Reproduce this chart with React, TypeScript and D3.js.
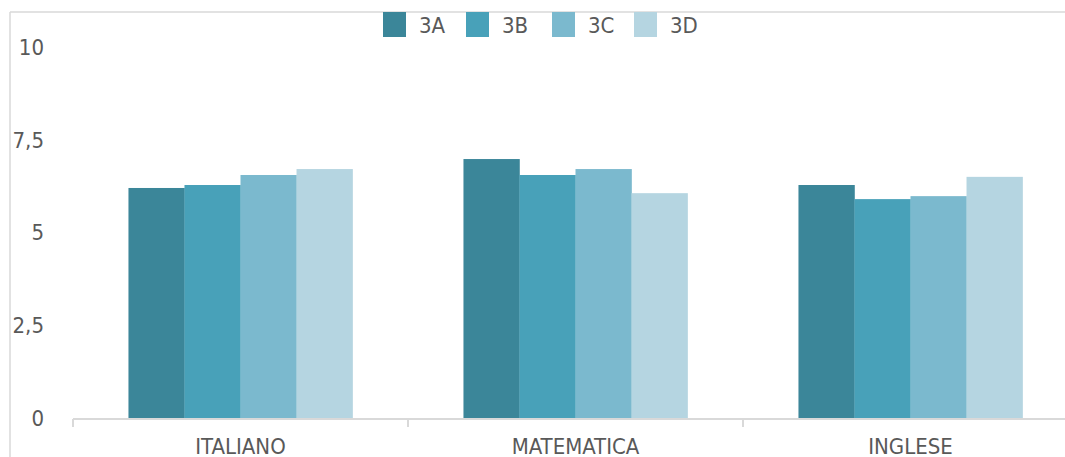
import React from "react";
import * as d3 from "d3";

const categories = ["ITALIANO", "MATEMATICA", "INGLESE"];
const seriesNames = ["3A", "3B", "3C", "3D"];
const values3A = [6.2, 6.98, 6.28];
const values3B = [6.28, 6.55, 5.9];
const values3C = [6.55, 6.71, 5.98];
const values3D = [6.71, 6.06, 6.5];
const yTicks = [0, 2.5, 5, 7.5, 10];
const colors = ["#3b8699", "#48a1b9", "#7bb9ce", "#b5d5e1"];

const seriesValues = [values3A, values3B, values3C, values3D];

const W = 1065;
const H = 457;
const FONT = "'DejaVu Sans Condensed', 'DejaVu Sans', sans-serif";
const TEXT = "#595959";
const GRID = "#d9d9d9";

export default function App() {
  const x0 = d3.scaleBand<string>().domain(categories).range([73, 1078]).padding(0);
  const x1 = d3
    .scaleBand<string>()
    .domain(seriesNames)
    .range([0, x0.bandwidth()])
    .paddingInner(0)
    .paddingOuter(0.99);
  const y = d3.scaleLinear().domain([0, 10]).range([418, 47]);
  const fmt = (v: number) => String(v).replace(".", ",");

  const legendX = [383, 466, 552, 634];

  return (
    <svg
      width={W}
      height={H}
      style={{ position: "absolute", left: 0, top: 0, background: "#fff" }}
      fontFamily={FONT}
    >
      {/* frame */}
      <line x1={10} y1={12} x2={W} y2={12} stroke={GRID} strokeWidth={1.5} />
      <line x1={10} y1={12} x2={10} y2={H} stroke={GRID} strokeWidth={1.5} />

      {/* bars */}
      {categories.map((c, ci) => (
        <g key={c} transform={`translate(${x0(c)},0)`}>
          {seriesNames.map((s, si) => {
            const v = seriesValues[si][ci];
            return (
              <rect
                key={s}
                x={x1(s)}
                y={y(v)}
                width={x1.bandwidth() + 0.3}
                height={y(0) - y(v)}
                fill={colors[si]}
              />
            );
          })}
        </g>
      ))}

      {/* x axis */}
      <line x1={x0.range()[0]} y1={419} x2={x0.range()[1]} y2={419} stroke={GRID} strokeWidth={2} />
      {categories.map((c) => (
        <line key={"t" + c} x1={x0(c)} y1={419} x2={x0(c)} y2={427} stroke={GRID} strokeWidth={2} />
      ))}
      {categories.map((c) => (
        <text
          key={"l" + c}
          x={(x0(c) as number) + x0.bandwidth() / 2}
          y={454}
          textAnchor="middle"
          fontSize={22}
          fill={TEXT}
        >
          {c}
        </text>
      ))}

      {/* y axis labels */}
      {yTicks.map((t) => (
        <text key={"y" + t} x={44} y={y(t)} dy="0.36em" textAnchor="end" fontSize={22} fill={TEXT}>
          {fmt(t)}
        </text>
      ))}

      {/* legend */}
      {seriesNames.map((s, i) => (
        <g key={"lg" + s}>
          <rect x={legendX[i]} y={12} width={23} height={25} fill={colors[i]} />
          <text x={legendX[i] + 36} y={25} dy="0.36em" fontSize={22} fill={TEXT}>
            {s}
          </text>
        </g>
      ))}
    </svg>
  );
}
